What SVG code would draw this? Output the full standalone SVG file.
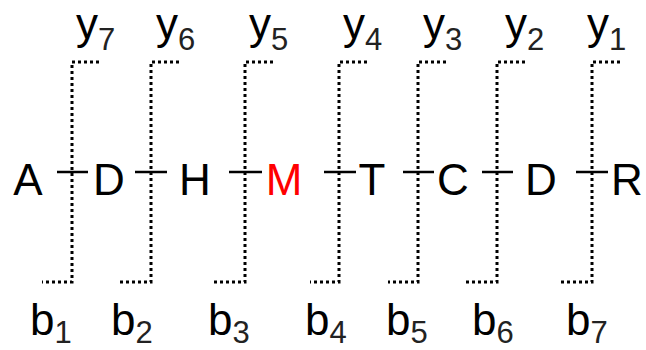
<svg xmlns="http://www.w3.org/2000/svg" width="646" height="350" viewBox="0 0 646 350">
<style>
.res{font-family:"Liberation Sans",Arial,sans-serif;font-size:44px;fill:#000;text-anchor:middle}
.lab{font-family:"Liberation Sans",Arial,sans-serif;font-size:44px;fill:#000}
.sub{font-size:31px;fill:#222}
.bond{stroke:#000;stroke-width:2.6;fill:none}
.frag{stroke:#000;stroke-width:3;fill:none;stroke-dasharray:3 3}
</style>
<rect width="646" height="350" fill="#fff"/>
<g id="connectors">
<path class="frag" d="M99 62H72V282H42"/>
<path class="frag" d="M179 62H151V282H120"/>
<path class="frag" d="M273 62H245V282H214"/>
<path class="frag" d="M367 62H339V282H310"/>
<path class="frag" d="M446 62H418V282H388"/>
<path class="frag" d="M525 62H497V282H466"/>
<path class="frag" d="M620 62H592V282H561"/>
<path class="bond" d="M57 172H88M135 172H167M229 172H262M324 172H356M403 172H434M482 172H513M576 172H608"/>
</g>
<g id="A"><text class="res" x="28" y="195">A</text></g>
<g id="D1"><text class="res" x="109" y="195">D</text></g>
<g id="H"><text class="res" x="195" y="195">H</text></g>
<g id="M"><text class="res" x="284" y="195" style="fill:#ff0000">M</text></g>
<g id="T"><text class="res" x="372" y="195">T</text></g>
<g id="C"><text class="res" x="453" y="195">C</text></g>
<g id="D2"><text class="res" x="541" y="195">D</text></g>
<g id="R"><text class="res" x="627" y="195">R</text></g>
<g id="y7"><text class="lab" x="76" y="39">y<tspan class="sub" dy="11">7</tspan></text></g>
<g id="y6"><text class="lab" x="156" y="39">y<tspan class="sub" dy="11">6</tspan></text></g>
<g id="y5"><text class="lab" x="249" y="39">y<tspan class="sub" dy="11">5</tspan></text></g>
<g id="y4"><text class="lab" x="343" y="39">y<tspan class="sub" dy="11">4</tspan></text></g>
<g id="y3"><text class="lab" x="423" y="39">y<tspan class="sub" dy="11">3</tspan></text></g>
<g id="y2"><text class="lab" x="505" y="39">y<tspan class="sub" dy="11">2</tspan></text></g>
<g id="y1"><text class="lab" x="587" y="39">y<tspan class="sub" dy="11">1</tspan></text></g>
<g id="b1"><text class="lab" x="30" y="335">b<tspan class="sub" dy="8">1</tspan></text></g>
<g id="b2"><text class="lab" x="111" y="335">b<tspan class="sub" dy="8">2</tspan></text></g>
<g id="b3"><text class="lab" x="208" y="335">b<tspan class="sub" dy="8">3</tspan></text></g>
<g id="b4"><text class="lab" x="305" y="335">b<tspan class="sub" dy="8">4</tspan></text></g>
<g id="b5"><text class="lab" x="386" y="335">b<tspan class="sub" dy="8">5</tspan></text></g>
<g id="b6"><text class="lab" x="472" y="335">b<tspan class="sub" dy="8">6</tspan></text></g>
<g id="b7"><text class="lab" x="566" y="335">b<tspan class="sub" dy="8">7</tspan></text></g>
</svg>
